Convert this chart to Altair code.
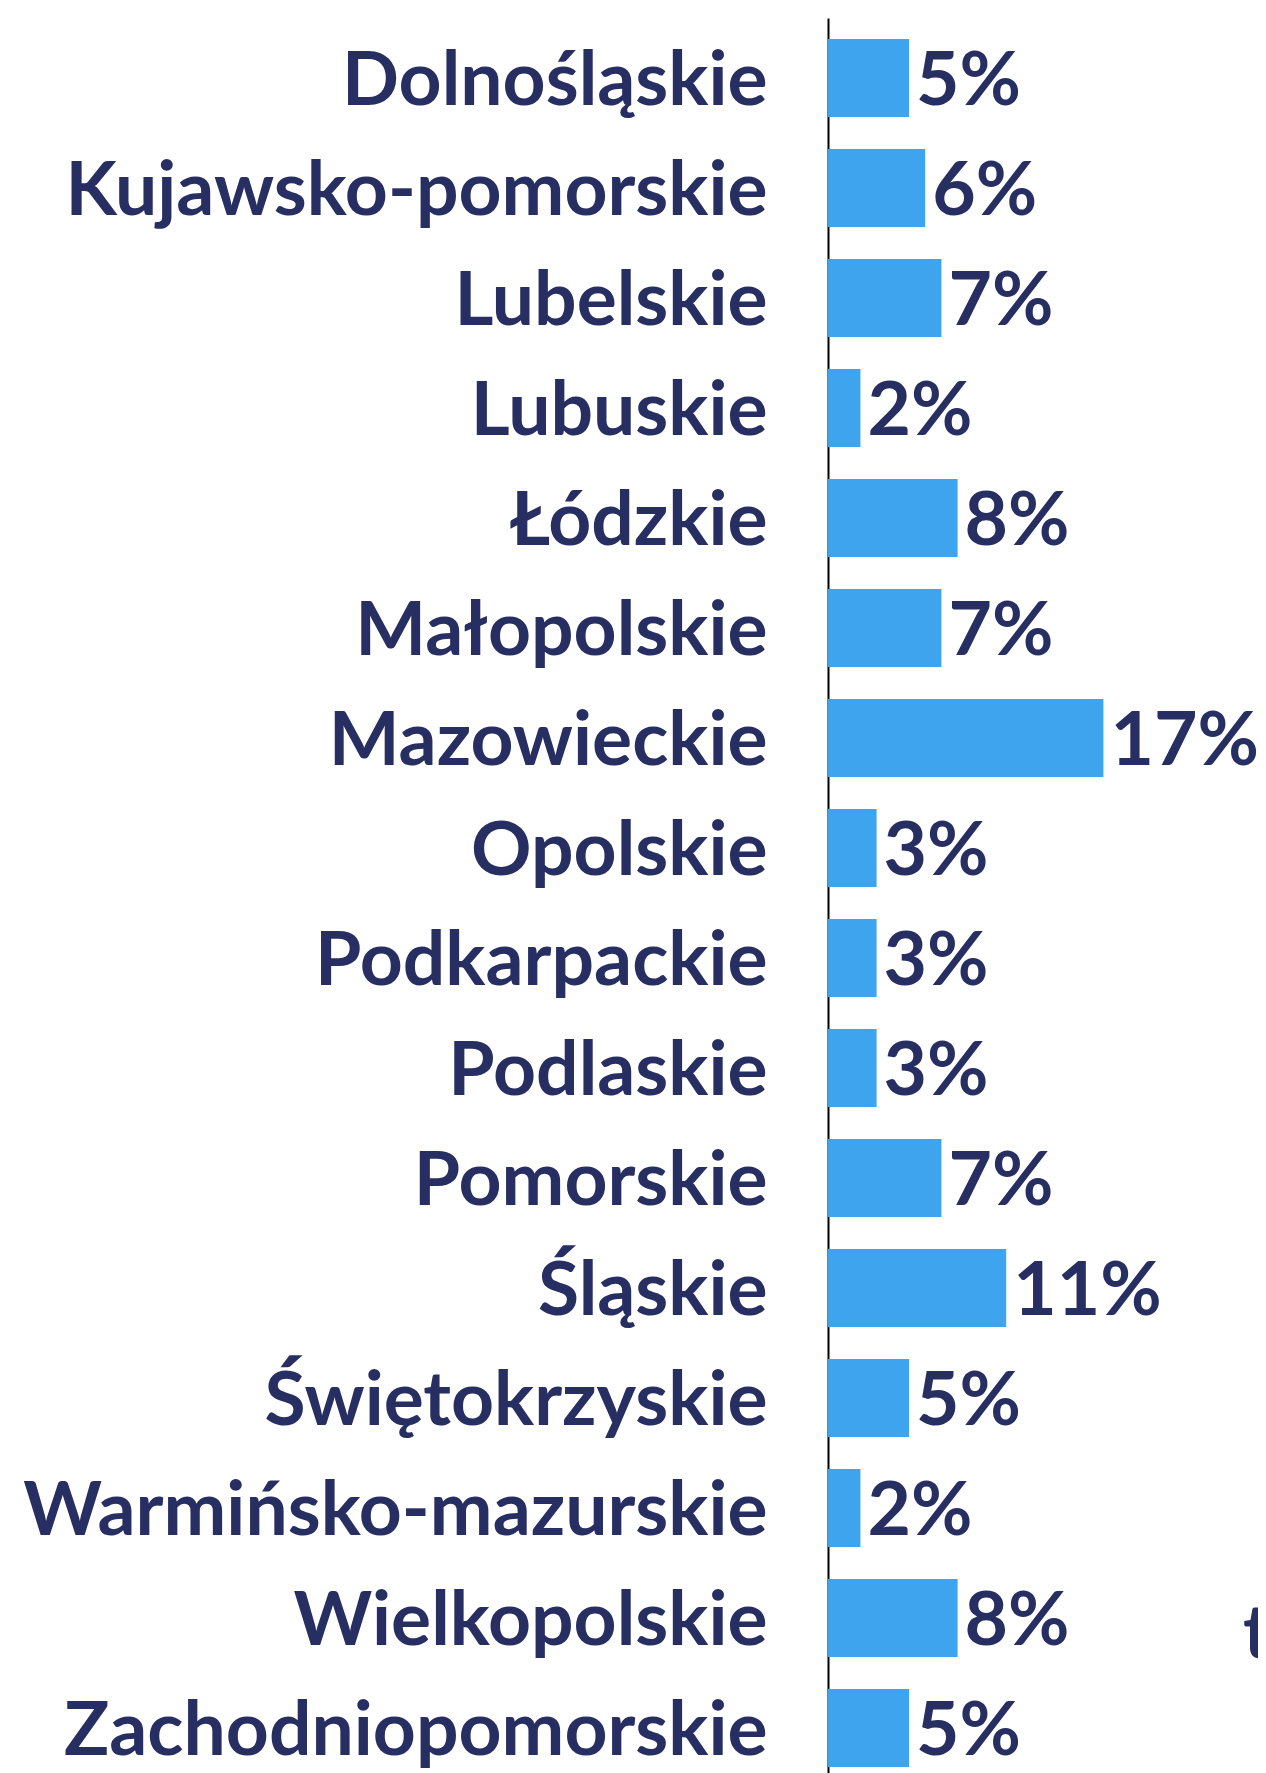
import altair as alt
import pandas as pd

regions = [
    "Dolnośląskie", "Kujawsko-pomorskie", "Lubelskie", "Lubuskie", "Łódzkie",
    "Małopolskie", "Mazowieckie", "Opolskie", "Podkarpackie", "Podlaskie",
    "Pomorskie", "Śląskie", "Świętokrzyskie", "Warmińsko-mazurskie",
    "Wielkopolskie", "Zachodniopomorskie",
]
values = [5, 6, 7, 2, 8, 7, 17, 3, 3, 3, 7, 11, 5, 2, 8, 5]
value_labels = [f"{v}%" for v in values]
extra_text = ["t"]

NAVY = "#272E62"
BLUE = "#3EA4EE"
FS = 75

df = pd.DataFrame({"region": regions, "value": values, "label": value_labels})

y_enc = alt.Y(
    "region:N",
    sort=regions,
    scale=alt.Scale(paddingInner=0.29, paddingOuter=0.19, range=[0, 1770]),
    axis=alt.Axis(
        title=None,
        labelFont="Lato",
        labelFontSize=FS,
        labelFontWeight="bold",
        labelColor=NAVY,
        labelPadding=61,
        labelOffset=4,
        labelLimit=2000,
        ticks=False,
        grid=False,
        domainColor="black",
        domainWidth=2,
    ),
)
x_enc = alt.X("value:Q", scale=alt.Scale(domain=[0, 20]), axis=None)

base = alt.Chart(df)
bars = base.mark_bar(color=BLUE).encode(y=y_enc, x=x_enc)
texts = base.mark_text(
    align="left", baseline="middle", dx=7, dy=4,
    font="Lato", fontSize=FS, fontWeight="bold", color=NAVY,
).encode(y=alt.Y("region:N", sort=regions), x="value:Q", text="label:N")

extra = alt.Chart(pd.DataFrame({"t": extra_text})).mark_text(
    align="left", baseline="alphabetic",
    font="Lato", fontSize=FS, fontWeight="bold", color=NAVY,
).encode(x=alt.value(415), y=alt.value(1640), text="t:N")

chart = alt.layer(bars, texts, extra).properties(
    width=324,
    height=1755,
    autosize=alt.AutoSizeParams(type="none"),
    padding={"left": 820, "top": 10, "right": 106, "bottom": 0},
).configure_view(stroke=None)

chart.save("out.html", embed_options={"renderer": "svg", "actions": False})
